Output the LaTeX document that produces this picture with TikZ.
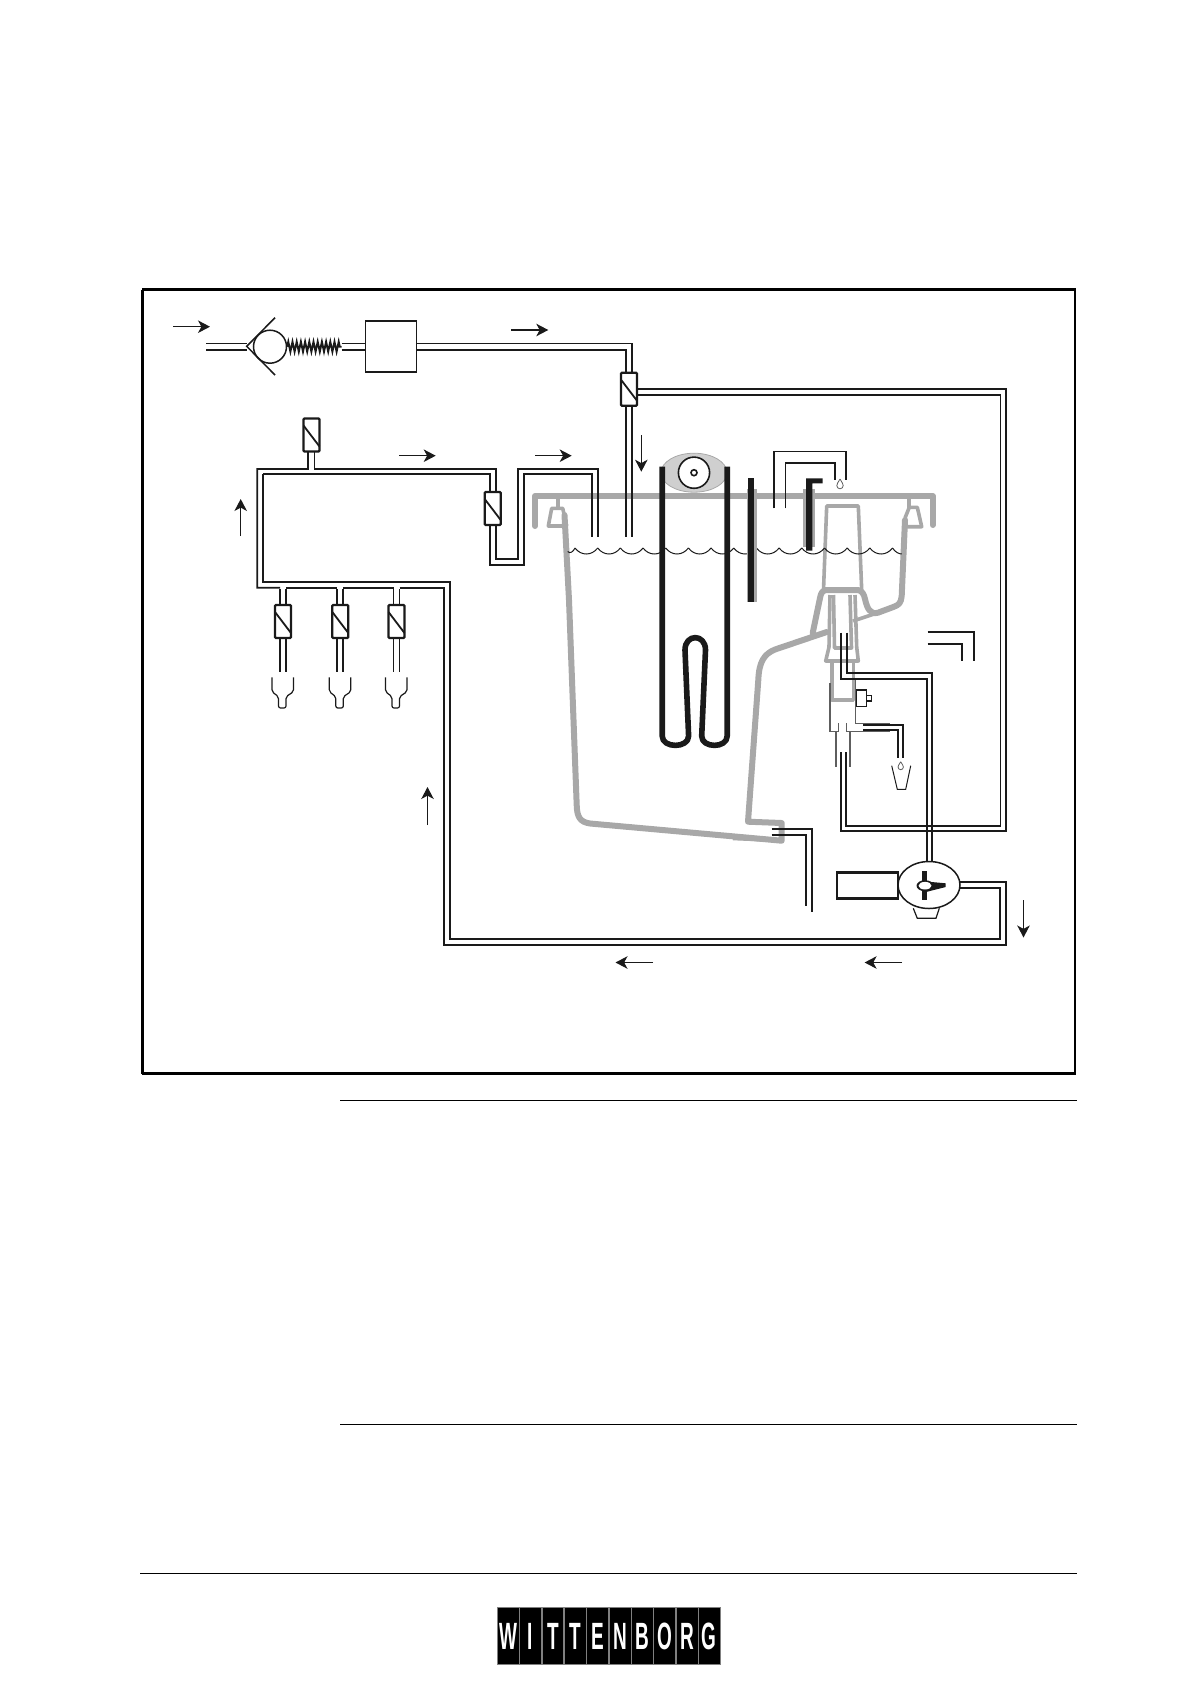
\documentclass[tikz,border=0pt]{standalone}
\usepackage{fontspec}
\usepackage{graphicx}
\usepackage{xcolor}
\usepackage{tikz}
\usetikzlibrary{arrows.meta,calc,decorations.pathmorphing,positioning,shapes.geometric}
\setmainfont{Liberation Sans}
\definecolor{PipeBlack}{HTML}{1A1A1A}
\definecolor{TankGray}{HTML}{A8A8A8}
\definecolor{FloatGray}{HTML}{CFCFCF}
\definecolor{RimGray}{HTML}{5E5E5E}

\begin{document}
\begin{tikzpicture}[
      x=1pt,y=-1pt,
      >={Stealth[inset=3.4pt,length=12pt,width=12.5pt]},
      pipeline/.style={draw=PipeBlack,line width=1.7pt,line join=miter},
      thinline/.style={draw=PipeBlack,line width=1.2pt},
      rimline/.style={draw=RimGray,line width=1.5pt},
      flowarr/.style={->,draw=PipeBlack,line width=1.1pt},
      valvebox/.style={draw=PipeBlack,fill=white,line width=2.3pt,rounded corners=1pt,minimum width=16pt,minimum height=33pt,inner sep=0pt,outer sep=0pt},
      filterbox/.style={draw=PipeBlack,fill=white,line width=1.4pt,minimum width=51pt,minimum height=51pt,inner sep=0pt,outer sep=0pt},
      motorbox/.style={draw=PipeBlack,fill=white,line width=2.4pt,minimum width=61pt,minimum height=26pt,inner sep=0pt,outer sep=0pt},
      logocell/.style={draw=gray,fill=black,text=white,line width=0.7pt,minimum width=21.8pt,minimum height=57pt,inner sep=0pt,text height=27pt,text depth=0pt},
      tankwall/.style={draw=TankGray,line width=6pt,line cap=round,line join=round},
      tankthin/.style={draw=TankGray,line width=3.6pt,line join=round},
      heater/.style={draw=PipeBlack,line width=5.6pt,line join=round},
      dropshape/.style={draw=RimGray,line width=0.8pt,fill=white}
    ]
      \useasboundingbox (0,0) rectangle (1190,1684);

      % page furniture
      \node[draw=black,line width=2.2pt,minimum width=932pt,minimum height=784pt,inner sep=0pt,outer sep=0pt] (frame) at (608.8,681.5) {};
      \draw[black,line width=3pt] (frame.north west) -- (frame.south west);
      \draw[black,line width=1pt] (340,1100.7) -- (1077,1100.7);
      \draw[black,line width=1pt] (340,1424.5) -- (1077,1424.5);
      \draw[black,line width=1.4pt] (140,1573.5) -- (1077,1573.5);
      \foreach \ltr [count=\i] in {W,I,T,T,E,N,B,O,R,G}
        \node[logocell] (logo\i) at ({508.2+22.35*(\i-1)},1635.5) {\scalebox{.5}[1]{\fontsize{38}{38}\selectfont\bfseries\ltr}};

      % tank
      \draw[tankwall] (535,526) -- (535,496) -- (932.7,496) -- (932.7,525);
      \draw[tankthin] (558,496) -- (558,508);
      \draw[tankthin] (909,496) -- (909,508);
      \draw[tankthin] (566.7,526) -- (548.3,526) -- (551.7,508.3) -- (562.7,508.3) -- (566.7,526);
      \draw[tankthin] (905,518) -- (909.3,507.3) -- (917.3,507.3) -- (921.7,526.7) -- (906.7,526.7);
      \draw[tankwall] (564.5,515) -- (569,600) -- (576.7,805) .. controls (577,817) and (580,822) .. (590,823.5) -- (781.7,840.7) -- (781.7,823) -- (748,821.7) -- (758.3,680) .. controls (759,662) and (764,654) .. (775,649.5) -- (826.7,632);
      \draw[tankthin] (733,838.5) -- (781,840.5);
      \draw[tankwall] (905,520) -- (901.7,596) .. controls (901,603) and (899,605) .. (893.3,607) -- (878,612.7) .. controls (870,615) and (867,608) .. (865,599) .. controls (864,594) and (862,591) .. (858,590) -- (826,590) .. controls (822,591) and (821,593) .. (820,598) -- (812.7,633);
      \draw[tankthin] (853,621) -- (878,612.7);
      \draw[tankthin] (823.5,590) -- (826.7,506) -- (858.3,506) -- (861.7,590);
      \draw[tankthin] (830,595) -- (829,647) -- (825.7,661) -- (858.3,661) -- (856.7,647) -- (855,595);
      \draw[tankthin] (833.5,595) -- (834.5,648) -- (851.5,648) -- (850,595);
      \draw[tankthin] (831.7,663) -- (831.7,700) -- (853.3,700) -- (853.3,663);

      % water line
      \draw[PipeBlack,line width=1pt] (567.7,551.5) .. controls (570,554) and (573,552) .. (575,548);
      \foreach \cx in {0,...,13}
        \draw[PipeBlack,line width=1pt] ({575+22.68*\cx},548) .. controls ({581+22.68*\cx},556) and ({591.6+22.68*\cx},556) .. ({597.68+22.68*\cx},548);
      \draw[PipeBlack,line width=1pt] (892.5,548) .. controls (895,552) and (899,554) .. (901.7,554);

      % float and heater
      \draw[draw=TankGray,fill=FloatGray,line width=0.8pt] (694,472.7) ellipse (33 and 19.5);
      \draw[draw=PipeBlack,fill=white,line width=1.6pt] (694,472.7) circle (15.6);
      \draw[draw=PipeBlack,fill=white,line width=1.6pt] (694,472.7) circle (3);
      \draw[heater] (662.2,466.7) -- (662.2,736) .. controls (662.2,748.5) and (688.6,748.5) .. (688.6,736) -- (685,650) .. controls (685,633.5) and (705.5,633.5) .. (705.5,650) -- (701.7,736) .. controls (701.7,748.5) and (727.2,748.5) .. (727.2,736) -- (727.2,466.7);

      % level probes
      \fill[TankGray] (746.7,489.3) rectangle (757.3,601.7);
      \fill[PipeBlack] (748.3,478.3) rectangle (754,601.7);
      \fill[TankGray] (803.3,489.3) rectangle (815,546.7);
      \fill[PipeBlack] (806,550.7) -- (806,478.3) -- (822.7,478.3) -- (822.7,483.3) -- (812.3,483.3) -- (812.3,550.7) -- cycle;
      \draw[thinline] (774,508.3) -- (774,451.7) -- (846,451.7) -- (846,480);
      \draw[thinline] (785.7,508.3) -- (785.7,463) -- (835,463) -- (835,480);
      \draw[dropshape] (840,479) .. controls (838,482.5) and (836.8,484) .. (836.8,485.6) arc[start angle=180,end angle=0,radius=3.2] .. controls (843.2,484) and (842,482.5) .. (840,479);

      % inlet
      \node[filterbox] (filter) at (390.8,346.6) {};
      \draw[pipeline] (206,343.6) -- (246.7,343.6);
      \draw[pipeline] (206,349.8) -- (246.7,349.8);
      \node[draw=PipeBlack,fill=white,line width=1.5pt,circle,minimum size=33pt,inner sep=0pt] (ball) at (270,346.7) {};
      \draw[draw=PipeBlack,line width=1.5pt] (275,317.7) -- (246.7,346.3) -- (275,375);
      \draw[draw=PipeBlack,line width=1.9pt,decorate,decoration={zigzag,segment length=4.2pt,amplitude=5pt}] (ball.east) -- (341.7,346.7);
      \draw[pipeline] (341.7,343.6) -- (filter.west |- 0,343.6);
      \draw[pipeline] (341.7,349.8) -- (filter.west |- 0,349.8);

      % valves
      \node[valvebox] (vinlet) at (629,389.2) {};
      \node[valvebox] (vflush) at (311.5,435) {};
      \node[valvebox] (vfill) at (492.7,508.5) {};
      \foreach \nx/\vname in {283/vcupa,340.3/vcupb,396.5/vcupc}{
        \node[valvebox] (\vname) at (\nx,621.5) {};
        \draw[pipeline] ([xshift=-3pt]\vname.north) -- ++(0,-16.5);
        \draw[pipeline] ([xshift=3pt]\vname.north) -- ++(0,-16.5);
        \draw[pipeline] ([xshift=-3pt]\vname.south) -- ++(0,33.7);
        \draw[pipeline] ([xshift=3pt]\vname.south) -- ++(0,33.7);
        \draw[thinline,rounded corners=2pt] (\nx-11,677.3) -- (\nx-11,691.7) -- (\nx-4.5,696.7) -- (\nx-4.5,708) -- (\nx+3,708) -- (\nx+3,696.7) -- (\nx+10.5,691.7) -- (\nx+10.5,677.3);
      }
      \foreach \vname in {vinlet,vflush,vfill,vcupa,vcupb,vcupc}
        \draw[draw=PipeBlack,line width=1.8pt] ([yshift=-7pt]\vname.north west) -- ([yshift=5pt]\vname.south east);

      % pipes
      \draw[pipeline] (filter.east |- 0,343.4) -- (632.3,343.4) -- ([xshift=3.3pt]vinlet.north);
      \draw[pipeline] (filter.east |- 0,349.8) -- (626,349.8) -- ([xshift=-3pt]vinlet.north);
      \draw[pipeline] ([xshift=-3pt]vinlet.south) -- (626,536.7);
      \draw[pipeline] ([xshift=3.3pt]vinlet.south) -- (632.3,536.7);
      \draw[pipeline] ([yshift=0.2pt]vinlet.east) -- (1006,389) -- (1006,830.7) -- (840.7,830.7) -- (840.7,752.3);
      \draw[pipeline] ([yshift=-5.8pt]vinlet.east) -- (1000.5,395) -- (1000.5,826) -- (846,826) -- (846,752.3);
      \draw[pipeline] ([xshift=-3.4pt]vflush.south) -- (308,469) -- (257.3,469) -- (257.3,587.7) -- ([xshift=-3pt]vcupa.north |- 0,587.7);
      \draw[pipeline] ([xshift=3pt]vflush.south) -- (314.5,469) -- (495.7,469) -- ([xshift=3pt]vfill.north);
      \draw[pipeline] (263.3,474.3) -- (490,474.3) -- ([xshift=-2.7pt]vfill.north);
      \draw[pipeline] (263.3,474.3) -- (263.3,582.3) -- (450,582.3) -- (450,939) -- (1000,939) -- (1000,888.3) -- (958,888.3);
      \draw[pipeline] ([xshift=-2.7pt]vfill.south) -- (490,565) -- (524,565) -- (524,474.3) -- (591.7,474.3) -- (591.7,536.7);
      \draw[pipeline] ([xshift=3pt]vfill.south) -- (495.7,559.3) -- (518.3,559.3) -- (518.3,469) -- (597.7,469) -- (597.7,536.7);
      \draw[pipeline] ([xshift=3pt]vcupa.north |- 0,587.7) -- ([xshift=-3pt]vcupb.north |- 0,587.7);
      \draw[pipeline] ([xshift=3pt]vcupb.north |- 0,587.7) -- ([xshift=-3pt]vcupc.north |- 0,587.7);
      \draw[pipeline] ([xshift=3pt]vcupc.north |- 0,587.7) -- (444,587.7) -- (444,945) -- (1005.7,945) -- (1005.7,882.3) -- (959,882.3);

      % pump
      \node[motorbox] (motor) at (867.5,885.3) {};
      \draw[draw=PipeBlack,line width=1.2pt] (913.3,908.3) -- (917.3,918.3) -- (936,918.3) -- (939.3,908.3);
      \node[draw=PipeBlack,fill=white,line width=1.5pt,ellipse,minimum width=62pt,minimum height=47pt,inner sep=0pt] (pump) at (929,885) {};
      \fill[PipeBlack] (921.7,870.7) rectangle (926.7,900);
      \fill[PipeBlack] (926,881.5) -- (945.7,883.3) -- (945.7,887) -- (926,892) -- cycle;
      \fill[PipeBlack] (925,885.7) ellipse (8.5 and 5.5);
      \fill[white] (925,885.7) ellipse (6.5 and 3.8);
      \draw[pipeline] (841,632.7) -- (841,679) -- (926.7,679) -- (926.7,861.5);
      \draw[pipeline] (847,632.7) -- (847,672.7) -- (932.3,672.7) -- (932.3,861.5);

      % drain and overflow
      \draw[pipeline] (771.7,829.2) -- (812,829.2) -- (812,911.5);
      \draw[pipeline] (771.7,835) -- (806,835) -- (806,905.5);
      \draw[pipeline] (927.7,632) -- (974,632) -- (974,660.7);
      \draw[pipeline] (927.7,643.7) -- (962.3,643.7) -- (962.3,660.7);

      % outlet block
      \draw[rimline] (830,683.3) -- (830,731.7) -- (838.3,731.7) -- (838.3,723);
      \draw[rimline] (855.7,680) -- (855.7,723.3) -- (890,723.3);
      \draw[rimline] (846.7,723.3) -- (846.7,731.7) -- (890,731.7);
      \draw[rimline] (836,731.7) -- (836,766.7);
      \draw[rimline] (850,731.7) -- (850,766.7);
      \draw[pipeline] (863,725) -- (903.3,725) -- (903.3,758);
      \draw[pipeline] (863,730) -- (898,730) -- (898,758);
      \node[draw=PipeBlack,fill=white,line width=1.7pt,minimum width=10pt,minimum height=16.5pt,inner sep=0pt,outer sep=0pt] (solenoid) at (861.5,698.3) {};
      \node[draw=PipeBlack,fill=white,line width=1.3pt,minimum width=5pt,minimum height=5.5pt,inner sep=0pt,outer sep=0pt,right=0pt of solenoid] (plunger) {};
      \draw[draw=PipeBlack,line width=1pt] (891.7,765.7) -- (897.3,789.3) -- (905.7,789.3) -- (910.7,765.7);
      \draw[dropshape] (900.7,761.7) .. controls (899,764.5) and (898,766) .. (898,767) arc[start angle=180,end angle=0,radius=2.7] .. controls (903.4,766) and (902.4,764.5) .. (900.7,761.7);

      % flow arrows
      \draw[flowarr] (173.3,326.7) -- (210,326.7);
      \draw[flowarr] (511,330) -- (548.3,330);
      \draw[flowarr] (399,455.7) -- (435.7,455.7);
      \draw[flowarr] (535,455.7) -- (571.7,455.7);
      \draw[flowarr] (240.7,536) -- (240.7,499);
      \draw[flowarr] (641.3,435) -- (641.3,471.7);
      \draw[flowarr] (427.5,825) -- (427.5,787);
      \draw[flowarr] (1023.5,900) -- (1023.5,937.5);
      \draw[flowarr] (653,962.5) -- (615.5,962.5);
      \draw[flowarr] (902,962.5) -- (864.6,962.5);
    \end{tikzpicture}
\end{document}
